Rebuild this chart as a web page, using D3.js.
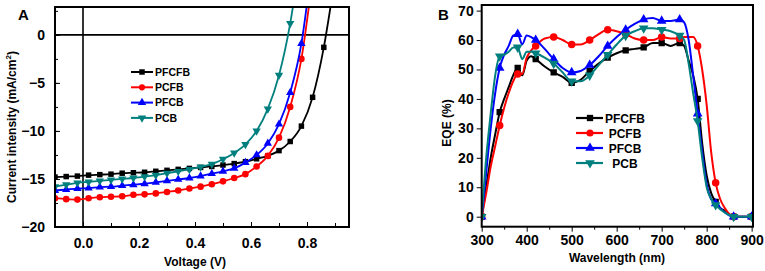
<!DOCTYPE html>
<html>
<head>
<meta charset="utf-8">
<script src="https://cdn.jsdelivr.net/npm/d3@7"></script>
<style>
  body { margin: 0; background: #fff; }
  text { font-family: "Liberation Sans", Arial, sans-serif; font-weight: bold; }
</style>
</head>
<body>
<svg id="chart" width="765" height="271"></svg>
<script>
// ---- panel A: J-V curves ----
const voltage = [-0.1, -0.06, -0.02, 0.02, 0.06, 0.10, 0.14, 0.18, 0.22, 0.26, 0.30, 0.34, 0.38,
  0.42, 0.46, 0.50, 0.54, 0.58, 0.62, 0.66, 0.70, 0.74, 0.78, 0.82, 0.86, 0.90];
const jPFCFB = [-14.8, -14.75, -14.7, -14.6, -14.55, -14.5, -14.4, -14.35, -14.3, -14.2, -14.1, -14.0, -13.9,
  -13.8, -13.7, -13.55, -13.4, -13.2, -12.9, -12.6, -12.05, -11.1, -9.5, -6.5, -1.3, 6];
const jPCFB = [-17.0, -17.1, -17.15, -17.0, -16.9, -16.85, -16.8, -16.65, -16.6, -16.5, -16.35, -16.2, -16.0,
  -15.8, -15.55, -15.25, -14.9, -14.5, -13.7, -12.6, -10.7, -7.5, -2.5, 6];
const jPFCB = [-16.2, -16.1, -16.0, -15.95, -15.85, -15.8, -15.7, -15.6, -15.5, -15.35, -15.2, -15.05, -14.9,
  -14.7, -14.45, -14.2, -13.9, -13.3, -12.5, -11.3, -9.3, -6.0, -0.9, 8];
const jPCB = [-15.8, -15.6, -15.4, -15.3, -15.2, -15.1, -15.0, -14.9, -14.75, -14.6, -14.4, -14.2, -14.0,
  -13.75, -13.45, -12.95, -12.3, -11.4, -10.0, -7.7, -4.2, 1.2, 9];
const voltTicks = [0.0, 0.2, 0.4, 0.6, 0.8];
const currentTicks = [-20, -15, -10, -5, 0];

// ---- panel B: EQE spectra ----
const wavelength = [300, 310, 320, 330, 340, 350, 360, 370, 380, 390, 400, 410, 420, 440, 460, 480, 500,
  520, 540, 560, 580, 600, 620, 640, 660, 680, 700, 720, 740, 750, 760, 770, 780, 790, 800, 810, 820,
  830, 840, 860, 880, 900];
const eqePFCFB = [0, 10, 20, 28, 35.5, 40, 44, 48, 50.5, 48, 53, 54.5, 53.5, 51, 49, 47.5, 45.5,
  46.5, 49.5, 52, 54, 55.5, 56.5, 57, 57.5, 59, 59, 58, 59, 58, 53, 48, 40, 25, 14, 8, 5,
  3, 2, 0, 0, 0];
const eqePCFB = [0, 8, 17, 24, 31, 37, 42, 46, 48.5, 48.5, 54, 56.5, 58, 60.5, 61, 60, 58.5,
  58.5, 60, 62, 63.5, 63, 62, 60.5, 60, 60, 61, 60.5, 60.5, 61, 61, 61, 58, 50, 38, 22, 11.5,
  6, 3, 0, 0, 0];
const eqePFCB = [0, 15, 30, 42, 50.5, 55, 58, 61.5, 62, 58.5, 61.5, 61, 60, 57, 53.5, 50.5, 49,
  49.5, 51.5, 54.5, 58, 61, 63.5, 65.5, 67, 67.5, 66.5, 66.5, 67, 66, 60, 48, 35, 22, 11, 6, 4.5,
  3, 1.5, 0, 0, 0];
const eqePCB = [0, 20, 35, 48, 54.5, 55, 56, 57.5, 57.5, 53.5, 56, 56, 55.5, 54, 52, 49, 46,
  46, 48, 51.5, 55, 58.5, 61.5, 63, 64, 64, 63.5, 63, 61.5, 60, 52, 42, 32.5, 20, 10, 6, 4,
  2.5, 1.5, 0, 0, 0];
const wlTicks = [300, 400, 500, 600, 700, 800, 900];
const eqeTicks = [0, 10, 20, 30, 40, 50, 60, 70];

const seriesNames = ["PFCFB", "PCFB", "PFCB", "PCB"];
const colors = ["#000000", "#ff0000", "#0000ff", "#007f7f"];
const shapes = ["square", "circle", "up", "down"];

const svg = d3.select("#chart");

function symbolPath(shape, size) {
  const type = shape === "square" ? d3.symbolSquare : shape === "circle" ? d3.symbolCircle : d3.symbolTriangle;
  return d3.symbol().type(type).size(size)();
}
function markerRot(shape) { return shape === "down" ? " rotate(180)" : ""; }

// ================= Panel A =================
let ax = d3.scaleLinear().domain([-0.1, 0.95]).range([55, 349]);
let ay = d3.scaleLinear().domain([-20, 2.9]).range([227, 7]);

svg.append("defs").append("clipPath").attr("id", "clipA")
  .append("rect").attr("x", 55).attr("y", 7).attr("width", 294).attr("height", 220);
svg.select("defs").append("clipPath").attr("id", "clipB")
  .append("rect").attr("x", 481.7).attr("y", 5).attr("width", 271.3).attr("height", 221.7);

let gA = svg.append("g");
// zero lines
gA.append("line").attr("x1", 55).attr("x2", 349).attr("y1", ay(0)).attr("y2", ay(0))
  .attr("stroke", "#000").attr("stroke-width", 1.6);
gA.append("line").attr("x1", ax(0)).attr("x2", ax(0)).attr("y1", 7).attr("y2", 227)
  .attr("stroke", "#000").attr("stroke-width", 1.6);

// axes (ticks inward)
gA.append("g").attr("transform", "translate(0,227)")
  .call(d3.axisBottom(ax).tickValues(d3.range(-0.1, 0.95, 0.1).map(d => +d.toFixed(2)))
    .tickSize(-4).tickFormat(""))
  .call(g => g.select(".domain").remove());
gA.append("g").attr("transform", "translate(0,227)")
  .call(d3.axisBottom(ax).tickValues(voltTicks).tickSize(-5).tickPadding(11).tickFormat(d3.format(".1f")))
  .call(g => g.select(".domain").remove())
  .call(g => g.selectAll("text").attr("font-size", 14).attr("font-family", "Liberation Sans, Arial").attr("font-weight", "bold"));
gA.append("g").attr("transform", "translate(55,0)")
  .call(d3.axisLeft(ay).tickValues(d3.range(-20, 3, 2.5)).tickSize(-3).tickFormat(""))
  .call(g => g.select(".domain").remove());
gA.append("g").attr("transform", "translate(55,0)")
  .call(d3.axisLeft(ay).tickValues(currentTicks).tickSize(-5).tickPadding(10))
  .call(g => g.select(".domain").remove())
  .call(g => g.selectAll("text").attr("font-size", 14).attr("font-family", "Liberation Sans, Arial").attr("font-weight", "bold"));

const jSeries = [jPFCFB, jPCFB, jPFCB, jPCB];
let lineA = d3.line().curve(d3.curveMonotoneX).x(d => ax(d.v)).y(d => ay(d.j));
let clippedA = gA.append("g").attr("clip-path", "url(#clipA)");
jSeries.forEach((js, i) => {
  let pts = js.map((j, k) => ({ v: voltage[k], j: j }));
  clippedA.append("path").datum(pts).attr("d", lineA)
    .attr("fill", "none").attr("stroke", colors[i]).attr("stroke-width", 1.8);
  clippedA.selectAll(".mA" + i).data(pts).enter().append("path")
    .attr("d", symbolPath(shapes[i], shapes[i] === "circle" ? 34 : 30))
    .attr("transform", d => "translate(" + ax(d.v) + "," + ay(d.j) + ")" + markerRot(shapes[i]))
    .attr("fill", colors[i]);
});

gA.append("rect").attr("x", 55).attr("y", 7).attr("width", 294).attr("height", 220)
  .attr("fill", "none").attr("stroke", "#000").attr("stroke-width", 2);

// legend A
seriesNames.forEach((name, i) => {
  let yy = 72 + i * 15.3;
  gA.append("line").attr("x1", 131).attr("x2", 153).attr("y1", yy).attr("y2", yy)
    .attr("stroke", colors[i]).attr("stroke-width", 2);
  gA.append("path").attr("d", symbolPath(shapes[i], 30))
    .attr("transform", "translate(142," + yy + ")" + markerRot(shapes[i])).attr("fill", colors[i]);
  gA.append("text").attr("x", 155).attr("y", yy + 3.8).attr("font-size", 10.5).text(name);
});

gA.append("text").attr("x", 18).attr("y", 20).attr("font-size", 15).text("A");
let yl = gA.append("text").attr("transform", "translate(16,127) rotate(-90)")
  .attr("text-anchor", "middle").attr("font-size", 12);
yl.append("tspan").text("Current intensity (mA/cm");
yl.append("tspan").attr("font-size", 8).attr("dy", -5).text("2");
yl.append("tspan").attr("dy", 5).text(")");
gA.append("text").attr("x", 195).attr("y", 266).attr("text-anchor", "middle").attr("font-size", 12)
  .text("Voltage (V)");

// ================= Panel B =================
let bx = d3.scaleLinear().domain([300, 903]).range([481.7, 753]);
let by = d3.scaleLinear().domain([-3.4, 71.9]).range([226.7, 5]);
let gB = svg.append("g");

gB.append("g").attr("transform", "translate(0,226.7)")
  .call(d3.axisBottom(bx).tickValues(d3.range(350, 900, 100)).tickSize(3).tickFormat(""))
  .call(g => g.select(".domain").remove());
gB.append("g").attr("transform", "translate(0,226.7)")
  .call(d3.axisBottom(bx).tickValues(wlTicks).tickSize(5).tickPadding(3))
  .call(g => g.select(".domain").remove())
  .call(g => g.selectAll("text").attr("font-size", 14).attr("font-family", "Liberation Sans, Arial").attr("font-weight", "bold"));
gB.append("g").attr("transform", "translate(481.7,0)")
  .call(d3.axisLeft(by).tickValues(eqeTicks).tickSize(5).tickPadding(3))
  .call(g => g.select(".domain").remove())
  .call(g => g.selectAll("text").attr("font-size", 14).attr("font-family", "Liberation Sans, Arial").attr("font-weight", "bold"));

const eqeSeries = [eqePFCFB, eqePCFB, eqePFCB, eqePCB];
let lineB = d3.line().curve(d3.curveMonotoneX).x(d => bx(d.w)).y(d => by(d.e));
let clippedB = gB.append("g").attr("clip-path", "url(#clipB)");
eqeSeries.forEach((es, i) => {
  let pts = es.map((e, k) => ({ w: wavelength[k], e: e }));
  clippedB.append("path").datum(pts).attr("d", lineB)
    .attr("fill", "none").attr("stroke", colors[i]).attr("stroke-width", 2);
  clippedB.selectAll(".mB" + i).data(pts.filter(d => (d.w - 300) % 40 === 0)).enter().append("path")
    .attr("d", symbolPath(shapes[i], shapes[i] === "circle" ? 44 : 40))
    .attr("transform", d => "translate(" + bx(d.w) + "," + by(d.e) + ")" + markerRot(shapes[i]))
    .attr("fill", colors[i]);
});

gB.append("rect").attr("x", 481.7).attr("y", 5).attr("width", 271.3).attr("height", 221.7)
  .attr("fill", "none").attr("stroke", "#000").attr("stroke-width", 2);

seriesNames.forEach((name, i) => {
  let yy = 118 + i * 15;
  gB.append("line").attr("x1", 576).attr("x2", 603).attr("y1", yy).attr("y2", yy)
    .attr("stroke", colors[i]).attr("stroke-width", 2.2);
  gB.append("path").attr("d", symbolPath(shapes[i], 40))
    .attr("transform", "translate(590," + yy + ")" + markerRot(shapes[i])).attr("fill", colors[i]);
  gB.append("text").attr("x", 625).attr("y", yy + 4.5).attr("text-anchor", "middle")
    .attr("font-size", 12).text(name);
});

gB.append("text").attr("x", 438).attr("y", 20).attr("font-size", 15).text("B");
gB.append("text").attr("transform", "translate(451,123) rotate(-90)")
  .attr("text-anchor", "middle").attr("font-size", 12).text("EQE (%)");
gB.append("text").attr("x", 617).attr("y", 262).attr("text-anchor", "middle").attr("font-size", 12)
  .text("Wavelength (nm)");
</script>
</body>
</html>
